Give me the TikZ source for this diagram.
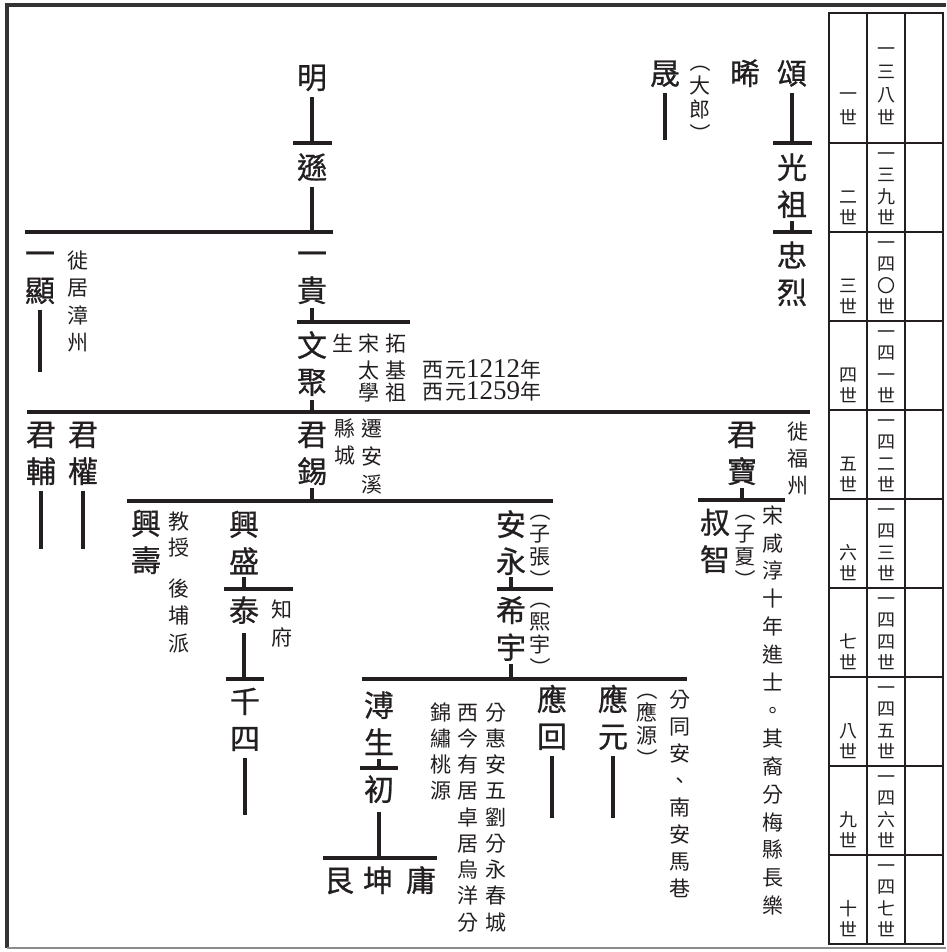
\documentclass[tikz,border=0pt]{standalone}
\usepackage{fontspec}
\setmainfont{Liberation Serif}
\newfontfamily\cjk{Noto Sans CJK TC}
\newfontfamily\cjkname{Noto Sans CJK TC}[FakeBold=0.8]
\usepackage{tikz}
\definecolor{ink}{HTML}{231F20}
\newcommand\hdst{\rule{0pt}{.88em}}
\newcommand\vlp{\rotatebox[origin=c]{-90}{（}}
\newcommand\vrp{\rotatebox[origin=c]{-90}{）}}
\tikzstyle{person}=[font=\cjkname\fontsize{30}{37}\selectfont,text=ink,align=center,inner sep=0pt,anchor=north,
  execute at end node={\rule[-3.6pt]{0pt}{3.6pt}}]
\tikzset{remark/.style={font=\cjk\fontsize{21}{#1}\selectfont,text=ink,align=center,inner sep=0pt,anchor=north,
  execute at end node={\rule[-2.52pt]{0pt}{2.52pt}}},
  remark/.default=26}
\tikzset{cell/.style={font=\cjk\fontsize{18}{#1}\selectfont,text=ink,align=center,inner sep=0pt,anchor=north,
  execute at end node={\rule[-2.16pt]{0pt}{2.16pt}}},
  cell/.default=21.5}
\tikzstyle{link} = [draw=ink,line width=3.3pt]
\tikzstyle{grid} = [draw=ink,line width=2.2pt]

\begin{document}
\begin{tikzpicture}[x=1pt,y=-1pt]
  \useasboundingbox (0,0) rectangle (946,952);
  % frame
  \draw[line width=3.5pt,black!80] (946,5) -- (7,5) -- (7,948);
  \draw[line width=2.5pt,black!45] (7,948) -- (946,948);

  % generations 1-3
  \node[person] (ming) at (312,62) {\hdst 明};
  \node[person] (xun) at (312,152) {\hdst 遜};
  \node[person] (song) at (792,58) {\hdst 頌};
  \node[person] (xi) at (745,58) {\hdst 晞};
  \node[person] (cheng) at (665,58) {\hdst 晟};
  \node[remark=24] (dalang) at (700,51) {\hdst\vlp\\大\\郎\\\vrp};
  \node[person] (guangzu) at (792,152) {\hdst 光\\祖};
  \node[person] (zhonglie) at (792,240) {\hdst 忠\\烈};
  \node[person] (yixian) at (40,238) {\hdst 一\\顯};
  \node[remark=27.5] (zhangzhou) at (78,249.5) {\hdst 徙\\居\\漳\\州};
  \node[person] (yigui) at (312,238) {\hdst 一\\貴};

  % generation 4
  \node[person] (wenju) at (312,330) {\hdst 文\\聚};
  \node[remark] (sheng) at (343,332.5) {\hdst 生};
  \node[remark] (taixue) at (369,332.5) {\hdst 宋\\[1pt]太\\[-4pt]學};
  \node[remark] (tuoji) at (396,332.5) {\hdst 拓\\[1pt]基\\[-4pt]祖};
  \node[remark,anchor=west] (born) at (422,370) {\hdst 西\kern2pt 元{\rmfamily\fontsize{27}{27}\selectfont 1212}年};
  \node[remark,anchor=west] (died) at (422,392) {\hdst 西\kern2pt 元{\rmfamily\fontsize{27}{27}\selectfont 1259}年};

  % generation 5
  \node[person] (junfu) at (41,419) {\hdst 君\\輔};
  \node[person] (junquan) at (83,419) {\hdst 君\\權};
  \node[person] (junxi) at (312,419) {\hdst 君\\錫};
  \node[remark=27] (xiancheng) at (345,417.5) {\hdst 縣\\城};
  \node[remark=28] (anxi) at (372,417.5) {\hdst 遷\\安\\溪};
  \node[person] (junbao) at (742,419) {\hdst 君\\寶};
  \node[remark=27] (fuzhou) at (798,420.5) {\hdst 徙\\福\\州};

  % generation 6
  \node[person] (xingshou) at (146,508) {\hdst 興\\壽};
  \node[remark] (jiaoshou) at (179,510.5) {\hdst 教\\授};
  \node[remark=27.5] (houpu) at (179,577.5) {\hdst 後\\埔\\派};
  \node[person] (xingsheng) at (244,509) {\hdst 興\\盛};
  \node[person] (anyong) at (511,509) {\hdst 安\\永};
  \node[remark=23] (zizhang) at (540,500) {\hdst\vlp\\子\\張\\\vrp};
  \node[person] (shuzhi) at (715,507) {\hdst 叔\\智};
  \node[remark=23] (zixia) at (745,500) {\hdst\vlp\\子\\夏\\\vrp};
  \node[remark=27.9] (jinshi) at (773,504.5) {\hdst 宋\\咸\\淳\\十\\年\\進\\士\\。\\其\\裔\\分\\梅\\縣\\長\\樂};

  % generation 7
  \node[person] (tai) at (244,595) {\hdst 泰};
  \node[remark=28] (zhifu) at (282,598.5) {\hdst 知\\府};
  \node[person] (xiyu) at (511,595) {\hdst 希\\宇};
  \node[remark=23] (xiyu2) at (540,588) {\hdst\vlp\\熙\\宇\\\vrp};

  % generation 8
  \node[person] (qiansi) at (245,686) {\hdst 千\\四};
  \node[person] (pusheng) at (379,690) {\hdst 溥\\生};
  \node[remark=26.25] (jinxiu) at (441,701.5) {\hdst 錦\\繡\\桃\\源};
  \node[remark=26.25] (xijin) at (468,701.5) {\hdst 西\\今\\有\\居\\卓\\居\\烏\\洋\\分};
  \node[remark=26.25] (huian) at (496,701.5) {\hdst 分\\惠\\安\\五\\劉\\分\\永\\春\\城};
  \node[person] (yinghui) at (552,684) {\hdst 應\\回};
  \node[person] (yingyuan) at (613,684) {\hdst 應\\元};
  \node[remark=23] (yingyuan2) at (647,679) {\hdst\vlp\\應\\源\\\vrp};
  \node[remark=27.1] (tongan) at (680,688.5) {\hdst 分\\同\\安\\、\\南\\安\\馬\\巷};

  % generations 9-10
  \node[person] (chu) at (379,774) {\hdst 初};
  \node[person] (gen) at (339,865) {\hdst 艮};
  \node[person] (kun) at (378,865) {\hdst 坤};
  \node[person] (yong) at (421,865) {\hdst 庸};

  % joints
  \coordinate (t1) at (312,143);
  \coordinate (t2) at (312,232);
  \coordinate (t3) at (792,143);
  \coordinate (t4) at (792,232);
  \coordinate (t5) at (312,322);
  \coordinate (t6) at (312,412);
  \coordinate (t7) at (312,501);
  \coordinate (t8) at (742,500);
  \coordinate (t9) at (244,589);
  \coordinate (t10) at (244,679);
  \coordinate (t11) at (511,589);
  \coordinate (t12) at (511,679);
  \coordinate (t13) at (379,768);
  \coordinate (t14) at (379,858);
  \coordinate (e1) at (665,140);
  \coordinate (e2) at (40,372);
  \coordinate (e3) at (41,549);
  \coordinate (e4) at (83,549);
  \coordinate (e5) at (245,815);
  \coordinate (e6) at (552,818);
  \coordinate (e7) at (613,818);
  \coordinate (g2w) at (25,232);
  \coordinate (g2e) at (333,232);
  \coordinate (g4e) at (410,322);
  \coordinate (g5w) at (27,412);
  \coordinate (g5e) at (810,412);
  \coordinate (g6w) at (127,501);
  \coordinate (g6e) at (553,501);
  \coordinate (g8w) at (362,679);
  \coordinate (g8e) at (687,679);
  \coordinate (g10w) at (323,858);
  \coordinate (g10e) at (437,858);

  \draw[link,shorten <=5pt] (ming) to (t1);
  \draw[link] ([xshift=-19pt]t1) to ([xshift=20pt]t1);
  \draw[link,shorten <=5pt] (xun) to (t2);
  \draw[link] (g2w) to (g2e);
  \draw[link,shorten <=5pt] (song) to (t3);
  \draw[link] ([xshift=-19pt]t3) to ([xshift=20pt]t3);
  \draw[link,shorten <=2pt] (guangzu) to (t4);
  \draw[link] ([xshift=-19pt]t4) to ([xshift=20pt]t4);
  \draw[link,shorten <=5pt] (cheng) to (e1);
  \draw[link,shorten <=5pt] (yixian) to (e2);
  \draw[link,shorten <=3pt] (yigui) to (t5);
  \draw[link] ([xshift=-15pt]t5) to (g4e);
  \draw[link,shorten <=3pt] (wenju) to (t6);
  \draw[link] (g5w) to (g5e);
  \draw[link,shorten <=5pt] (junfu) to (e3);
  \draw[link,shorten <=5pt] (junquan) to (e4);
  \draw[link,shorten <=2pt] (junxi) to (t7);
  \draw[link] (g6w) to (g6e);
  \draw[link,shorten <=2pt] (junbao) to (t8);
  \draw[link] ([xshift=-44pt]t8) to ([xshift=43pt]t8);
  \draw[link,shorten <=1pt] (xingsheng) to (t9);
  \draw[link] ([xshift=-20pt]t9) to ([xshift=49pt]t9);
  \draw[link,shorten <=8pt] (tai) to (t10);
  \draw[link] ([xshift=-18pt]t10) to ([xshift=20pt]t10);
  \draw[link,shorten <=5pt] (qiansi) to (e5);
  \draw[link,shorten <=1pt] (anyong) to (t11);
  \draw[link] ([xshift=-14pt]t11) to ([xshift=42pt]t11);
  \draw[link,shorten <=2pt] (xiyu) to (t12);
  \draw[link] (g8w) to (g8e);
  \draw[link,shorten <=2pt] (pusheng) to (t13);
  \draw[link] ([xshift=-19pt]t13) to ([xshift=19pt]t13);
  \draw[link,shorten <=8pt] (chu) to (t14);
  \draw[link] (g10w) to (g10e);
  \draw[link,shorten <=5pt] (yinghui) to (e6);
  \draw[link,shorten <=5pt] (yingyuan) to (e7);

  % generation table
  \draw[grid] (829,13) rectangle (943,944);
  \draw[grid] (867,13) -- (867,944);
  \draw[grid] (905,13) -- (905,944);
  \foreach \y in {143,232,...,855}
    \draw[grid] (829,\y) -- (943,\y);
  \node[cell=24] (gen1) at (848,84) {\hdst 一\\世};
  \node[cell=23] (num1) at (886,39) {\hdst 一\\三\\八\\世};
  \foreach \g/\ga/\gb [count=\i from 2] in {二/三/九,三/四/〇,四/四/一,五/四/二,六/四/三,七/四/四,八/四/五,九/四/六,十/四/七} {
    \node[cell] (gen\i) at (848,143+89*\i-178+44) {\hdst\g\\世};
    \node[cell] (num\i) at (886,143+89*\i-178+1) {\hdst 一\\\ga\\\gb\\世};
  }
\end{tikzpicture}
\end{document}
